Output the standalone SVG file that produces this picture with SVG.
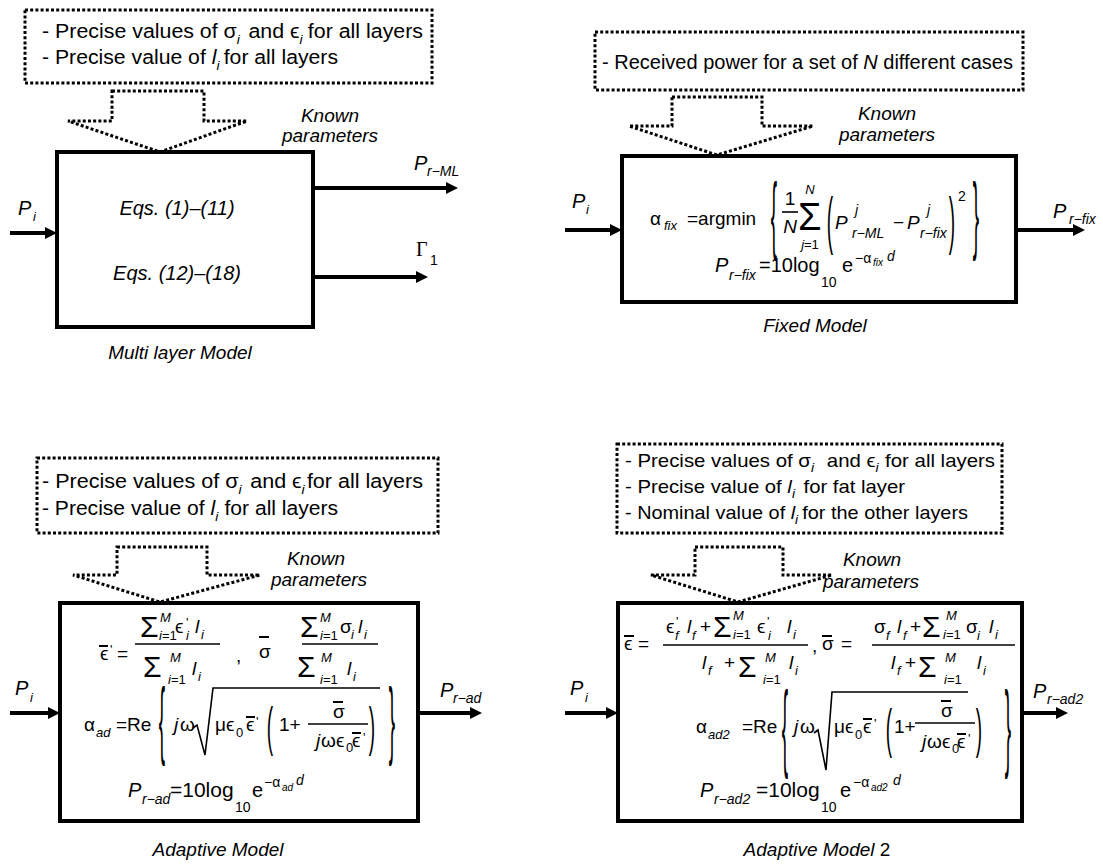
<svg xmlns="http://www.w3.org/2000/svg" width="1103" height="864" viewBox="0 0 1103 864">
<style>
text{font-family:"Liberation Sans",Arial,"DejaVu Sans",sans-serif;fill:#000;font-size:19px}
.it{font-style:italic}
.s{font-size:13px}
.ss{font-size:10px}
.m{font-size:14px}
.big{font-size:30px}
.b20{font-size:20px}
.mid{text-anchor:middle}
.dl{dominant-baseline:central;text-anchor:middle}
.dot{fill:none;stroke:#000;stroke-width:3;stroke-dasharray:3 2.2}
.box{fill:#fff;stroke:#000;stroke-width:4}
.ar{stroke:#000;stroke-width:4;fill:none}
.bar{stroke:#000;stroke-width:1.6}
.ob{stroke:#000;stroke-width:2}
.rad{fill:none;stroke:#000;stroke-width:1.6;stroke-linejoin:miter}
</style>
<defs>
<marker id="ah" viewBox="0 0 10 10" refX="0" refY="5" markerWidth="12" markerHeight="12" markerUnits="userSpaceOnUse" orient="auto"><path d="M0,0 L10,5 L0,10 z" fill="#000"/></marker>
</defs>

<g id="connectors">
<line class="ar" x1="10" y1="233" x2="45" y2="233" marker-end="url(#ah)"/>
<line class="ar" x1="313" y1="188" x2="446" y2="188" marker-end="url(#ah)"/>
<line class="ar" x1="313" y1="277" x2="416" y2="277" marker-end="url(#ah)"/>
<line class="ar" x1="565" y1="230" x2="610" y2="230" marker-end="url(#ah)"/>
<line class="ar" x1="1016" y1="230" x2="1073" y2="230" marker-end="url(#ah)"/>
<line class="ar" x1="10" y1="713" x2="48" y2="713" marker-end="url(#ah)"/>
<line class="ar" x1="418" y1="713" x2="470" y2="713" marker-end="url(#ah)"/>
<line class="ar" x1="565" y1="713" x2="606" y2="713" marker-end="url(#ah)"/>
<line class="ar" x1="1022" y1="713" x2="1056" y2="713" marker-end="url(#ah)"/>
<polygon class="dot" points="112,91 204,91 204,121 247,121 160,152 68,121 112,121"/>
<polygon class="dot" points="672,97 762,97 762,126 813,126 717,155 629,126 672,126"/>
<polygon class="dot" points="117,547 207,547 207,575 260,575 160,602 73,575 117,575"/>
<polygon class="dot" points="695,547 783,547 783,575 832,575 738,602 651,575 695,575"/>
</g>

<g id="known-tl">
<rect class="dot" x="25" y="10" width="407" height="73"/>
<text x="42" y="38" class="b20" textLength="381" lengthAdjust="spacingAndGlyphs">- Precise values of σ<tspan class="s it" dy="6">i</tspan><tspan dy="-6" dx="8">and  ϵ</tspan><tspan class="s it" dy="6">i</tspan><tspan dy="-6" dx="5">for all layers</tspan></text>
<text x="42" y="64" class="b20" textLength="296" lengthAdjust="spacingAndGlyphs">- Precise value of <tspan class="it">l</tspan><tspan class="s it" dy="6">i</tspan><tspan dy="-6" dx="4">for all layers</tspan></text>
<text x="330" y="122" class="it mid">Known</text>
<text x="330" y="142" class="it mid">parameters</text>
</g>

<g id="multilayer-model">
<rect class="box" x="57" y="152" width="256" height="175"/>
<text x="177" y="215" class="it mid b20">Eqs. (1)–(11)</text>
<text x="177" y="280" class="it mid b20">Eqs. (12)–(18)</text>
<text x="18" y="215" class="it b20">P</text><text x="33" y="221" class="it s">i</text>
<text x="414" y="170" class="it b20">P</text><text x="427" y="176" class="it m">r−ML</text>
<text x="416" y="256" style="font-family:'Liberation Serif',serif;font-size:20px">Γ</text><text x="430" y="265" class="m">1</text>
<text x="180" y="359" class="it mid">Multi layer Model</text>
</g>

<g id="known-tr">
<rect class="dot" x="595" y="32" width="428" height="58"/>
<text x="602" y="69" class="b20" textLength="411" lengthAdjust="spacingAndGlyphs">- Received power for a set of <tspan class="it">N</tspan> different cases</text>
<text x="887" y="120" class="it mid">Known</text>
<text x="887" y="141" class="it mid">parameters</text>
</g>

<g id="fixed-model">
<rect class="box" x="622" y="156" width="394" height="146"/>
<text x="572" y="208" class="it b20">P</text><text x="586" y="214" class="it s">i</text>
<text x="1053" y="218" class="it b20">P</text><text x="1069" y="224" class="it m">r−fix</text>
<text x="650" y="225">α</text><text x="664" y="230" class="it s">fix</text>
<text x="687" y="225">=argmin</text>
<text x="774" y="0" class="dl" transform="translate(0,213) scale(1,4.5)">{</text>
<text x="790" y="205" class="mid">1</text>
<line class="bar" x1="782" y1="212" x2="798" y2="212"/>
<text x="790" y="233" class="mid it">N</text>
<text x="798" y="230" style="font-size:38px">Σ</text>
<text x="810" y="194" class="mid it s">N</text>
<text x="810" y="249" class="mid s"><tspan class="it">j</tspan>=1</text>
<text x="830" y="0" class="dl" transform="translate(0,220) scale(1,3.3)">(</text>
<text x="835" y="229" class="it">P</text><text x="855" y="215" class="it m">j</text><text x="852" y="238" class="it m">r−ML</text>
<text x="893" y="229">−</text>
<text x="907" y="229" class="it">P</text><text x="927" y="215" class="it m">j</text><text x="920" y="238" class="it m">r−fix</text>
<text x="952" y="0" class="dl" transform="translate(0,220) scale(1,3.3)">)</text>
<text x="958" y="201" class="m">2</text>
<text x="976" y="0" class="dl" transform="translate(0,213) scale(1,4.5)">}</text>
<text x="715" y="272" class="it b20">P</text><text x="729" y="280" class="it m">r−fix</text>
<text x="759" y="272" class="b20">=10log</text><text x="821" y="287" class="m">10</text>
<text x="842" y="272" class="b20">e</text>
<text x="855" y="263" class="m">−α</text><text x="873" y="266" class="it ss">fix</text>
<text x="887" y="261" class="it m">d</text>
<text x="815" y="332" class="it mid">Fixed Model</text>
</g>

<g id="known-bl">
<rect class="dot" x="37" y="458" width="401" height="75"/>
<text x="42" y="488" class="b20" textLength="381" lengthAdjust="spacingAndGlyphs">- Precise values of σ<tspan class="s it" dy="6">i</tspan><tspan dy="-6" dx="8">and  ϵ</tspan><tspan class="s it" dy="6">i</tspan><tspan dy="-6" dx="2">for all layers</tspan></text>
<text x="42" y="515" class="b20" textLength="296" lengthAdjust="spacingAndGlyphs">- Precise value of <tspan class="it">l</tspan><tspan class="s it" dy="6">i</tspan><tspan dy="-6" dx="6">for all layers</tspan></text>
<text x="316" y="565" class="it mid">Known</text>
<text x="319" y="586" class="it mid">parameters</text>
</g>

<g id="adaptive-model">
<rect class="box" x="60" y="603" width="358" height="218"/>
<text x="15" y="695" class="it b20">P</text><text x="30" y="702" class="it s">i</text>
<text x="440" y="697" class="it b20">P</text><text x="453" y="703" class="it m">r−ad</text>
<text x="100" y="660">ϵ</text><line class="ob" x1="99" y1="646" x2="108" y2="646"/>
<text x="110" y="654" class="s">'</text><text x="117" y="660">=</text>
<text x="140" y="637" class="big">Σ</text><text x="160" y="622" class="it s">M</text><text x="159" y="640" class="s"><tspan class="it">i</tspan>=1</text>
<text x="175" y="633">ϵ</text><text x="186" y="627" class="s">'</text><text x="186" y="640" class="it s">i</text>
<text x="195" y="633" class="it">l</text><text x="201" y="639" class="it s">i</text>
<line class="bar" x1="135" y1="644" x2="220" y2="644"/>
<text x="143" y="677" class="big">Σ</text><text x="170" y="662" class="it s">M</text><text x="168" y="684" class="s"><tspan class="it">i</tspan>=1</text>
<text x="192" y="675" class="it">l</text><text x="198" y="681" class="it s">i</text>
<text x="236" y="662">,</text>
<text x="259" y="658">σ</text><line class="ob" x1="259" y1="637" x2="269" y2="637"/>
<text x="300" y="637" class="big">Σ</text><text x="320" y="622" class="it s">M</text><text x="320" y="640" class="s"><tspan class="it">i</tspan>=1</text>
<text x="340" y="633">σ</text><text x="351" y="639" class="it s">i</text>
<text x="358" y="633" class="it">l</text><text x="364" y="639" class="it s">i</text>
<line class="bar" x1="302" y1="644" x2="378" y2="644"/>
<text x="297" y="677" class="big">Σ</text><text x="321" y="662" class="it s">M</text><text x="320" y="684" class="s"><tspan class="it">i</tspan>=1</text>
<text x="347" y="675" class="it">l</text><text x="353" y="681" class="it s">i</text>
<text x="84" y="731">α</text><text x="96" y="737" class="it s">ad</text><text x="116" y="731">=Re</text>
<text x="162" y="0" class="dl" transform="translate(0,718) scale(1,4.5)">{</text>
<text x="174" y="731" class="it">j</text><text x="180" y="731">ω</text>
<path class="rad" d="M193,728 L197,725 L205,755 L213,688 L380,688"/>
<text x="215" y="731">μ</text><text x="226" y="731">ϵ</text><text x="236" y="737" class="s">0</text>
<text x="246" y="731">ϵ</text><line class="ob" x1="246" y1="717" x2="255" y2="717"/><text x="256" y="726" class="s">'</text>
<text x="270" y="0" class="dl" transform="translate(0,726) scale(1,2.8)">(</text>
<text x="279" y="731">1+</text>
<text x="333" y="718">σ</text><line class="ob" x1="333" y1="702" x2="343" y2="702"/>
<line class="bar" x1="308" y1="724" x2="368" y2="724"/>
<text x="316" y="747" class="it">j</text><text x="321" y="747">ω</text><text x="336" y="747">ϵ</text><text x="346" y="752" class="s">0</text>
<text x="352" y="747">ϵ</text><line class="ob" x1="352" y1="733" x2="361" y2="733"/><text x="363" y="742" class="s">'</text>
<text x="372" y="0" class="dl" transform="translate(0,726) scale(1,2.8)">)</text>
<text x="392" y="0" class="dl" transform="translate(0,718) scale(1,4.5)">}</text>
<text x="128" y="797" class="it b20">P</text><text x="142" y="804" class="it m">r−ad</text>
<text x="170" y="797" style="font-size:21px">=10log</text><text x="235" y="812" class="m">10</text>
<text x="252" y="797" class="b20">e</text>
<text x="264" y="787" class="m">−α</text><text x="282" y="791" class="it ss">ad</text><text x="296" y="785" class="it m">d</text>
<text x="218" y="856" class="it mid">Adaptive Model</text>
</g>

<g id="known-br">
<rect class="dot" x="617" y="444" width="385" height="89"/>
<text x="625" y="467" textLength="370" lengthAdjust="spacingAndGlyphs">- Precise values of σ<tspan class="s it" dy="5">i</tspan><tspan dy="-5" dx="12">and ϵ</tspan><tspan class="s it" dy="5">i</tspan><tspan dy="-5" dx="6">for all layers</tspan></text>
<text x="625" y="493" textLength="280" lengthAdjust="spacingAndGlyphs">- Precise value of <tspan class="it">l</tspan><tspan class="s it" dy="5">i</tspan><tspan dy="-5" dx="8">for fat layer</tspan></text>
<text x="625" y="519" textLength="343" lengthAdjust="spacingAndGlyphs">- Nominal value of <tspan class="it">l</tspan><tspan class="s it" dy="5">i</tspan><tspan dy="-5" dx="4">for the other layers</tspan></text>
<text x="872" y="566" class="it mid">Known</text>
<text x="871" y="588" class="it mid">parameters</text>
</g>

<g id="adaptive-model-2">
<rect class="box" x="618" y="603" width="404" height="218"/>
<text x="570" y="695" class="it b20">P</text><text x="585" y="702" class="it s">i</text>
<text x="1033" y="698" class="it b20">P</text><text x="1047" y="704" class="it m">r−ad2</text>
<text x="624" y="650">ϵ</text><line class="ob" x1="624" y1="636" x2="634" y2="636"/><text x="638" y="650">=</text>
<text x="666" y="633">ϵ</text><text x="676" y="626" class="s">'</text><text x="675" y="640" class="it s">f</text>
<text x="687" y="633" class="it">l</text><text x="692" y="640" class="it s">f</text>
<text x="700" y="633">+</text>
<text x="713" y="637" class="big">Σ</text><text x="733" y="620" class="it s">M</text><text x="733" y="639" class="s"><tspan class="it">i</tspan>=1</text>
<text x="757" y="633">ϵ</text><text x="767" y="626" class="s">'</text><text x="768" y="640" class="it s">i</text>
<text x="787" y="633" class="it">l</text><text x="793" y="639" class="it s">i</text>
<line class="bar" x1="663" y1="645" x2="808" y2="645"/>
<text x="702" y="669" class="it">l</text><text x="708" y="675" class="it s">f</text>
<text x="724" y="669">+</text>
<text x="738" y="677" class="big">Σ</text><text x="765" y="662" class="it s">M</text><text x="763" y="684" class="s"><tspan class="it">i</tspan>=1</text>
<text x="789" y="669" class="it">l</text><text x="795" y="675" class="it s">i</text>
<text x="812" y="652">,</text>
<text x="822" y="650">σ</text><line class="ob" x1="822" y1="636" x2="832" y2="636"/><text x="841" y="650">=</text>
<text x="874" y="633">σ</text><text x="886" y="640" class="it s">f</text>
<text x="897" y="633" class="it">l</text><text x="903" y="640" class="it s">f</text>
<text x="910" y="633">+</text>
<text x="922" y="637" class="big">Σ</text><text x="946" y="620" class="it s">M</text><text x="943" y="639" class="s"><tspan class="it">i</tspan>=1</text>
<text x="966" y="633">σ</text><text x="977" y="640" class="it s">i</text>
<text x="989" y="633" class="it">l</text><text x="995" y="639" class="it s">i</text>
<line class="bar" x1="872" y1="645" x2="1015" y2="645"/>
<text x="891" y="669" class="it">l</text><text x="897" y="675" class="it s">f</text>
<text x="905" y="669">+</text>
<text x="918" y="677" class="big">Σ</text><text x="945" y="662" class="it s">M</text><text x="944" y="684" class="s"><tspan class="it">i</tspan>=1</text>
<text x="977" y="669" class="it">l</text><text x="983" y="675" class="it s">i</text>
<text x="696" y="733">α</text><text x="708" y="739" class="it s">ad2</text><text x="742" y="733">=Re</text>
<text x="785" y="0" class="dl" transform="translate(0,726) scale(1,5.1)">{</text>
<text x="794" y="733" class="it">j</text><text x="800" y="733">ω</text>
<path class="rad" d="M814,733 L818,730 L826,770 L832,692 L968,692"/>
<text x="834" y="733">μ</text><text x="845" y="733">ϵ</text><text x="855" y="739" class="s">0</text>
<text x="863" y="733">ϵ</text><line class="ob" x1="863" y1="719" x2="872" y2="719"/><text x="874" y="728" class="s">'</text>
<text x="889" y="0" class="dl" transform="translate(0,728) scale(1,2.8)">(</text>
<text x="894" y="733">1+</text>
<text x="941" y="717">σ</text><line class="ob" x1="941" y1="701" x2="951" y2="701"/>
<line class="bar" x1="915" y1="723" x2="975" y2="723"/>
<text x="922" y="748" class="it">j</text><text x="927" y="748">ω</text><text x="942" y="748">ϵ</text><text x="952" y="753" class="s">0</text>
<text x="957" y="748">ϵ</text><line class="ob" x1="957" y1="734" x2="966" y2="734"/><text x="968" y="743" class="s">'</text>
<text x="979" y="0" class="dl" transform="translate(0,728) scale(1,2.8)">)</text>
<text x="1008" y="0" class="dl" transform="translate(0,726) scale(1,5.1)">}</text>
<text x="700" y="797" class="it b20">P</text><text x="714" y="804" class="it m">r−ad2</text>
<text x="756" y="797" style="font-size:21px">=10log</text><text x="821" y="812" class="m">10</text>
<text x="840" y="797" class="b20">e</text>
<text x="853" y="787" class="m">−α</text><text x="871" y="791" class="it ss">ad2</text><text x="893" y="785" class="it m">d</text>
<text x="817" y="856" class="mid"><tspan class="it">Adaptive Model</tspan> 2</text>
</g>
</svg>
